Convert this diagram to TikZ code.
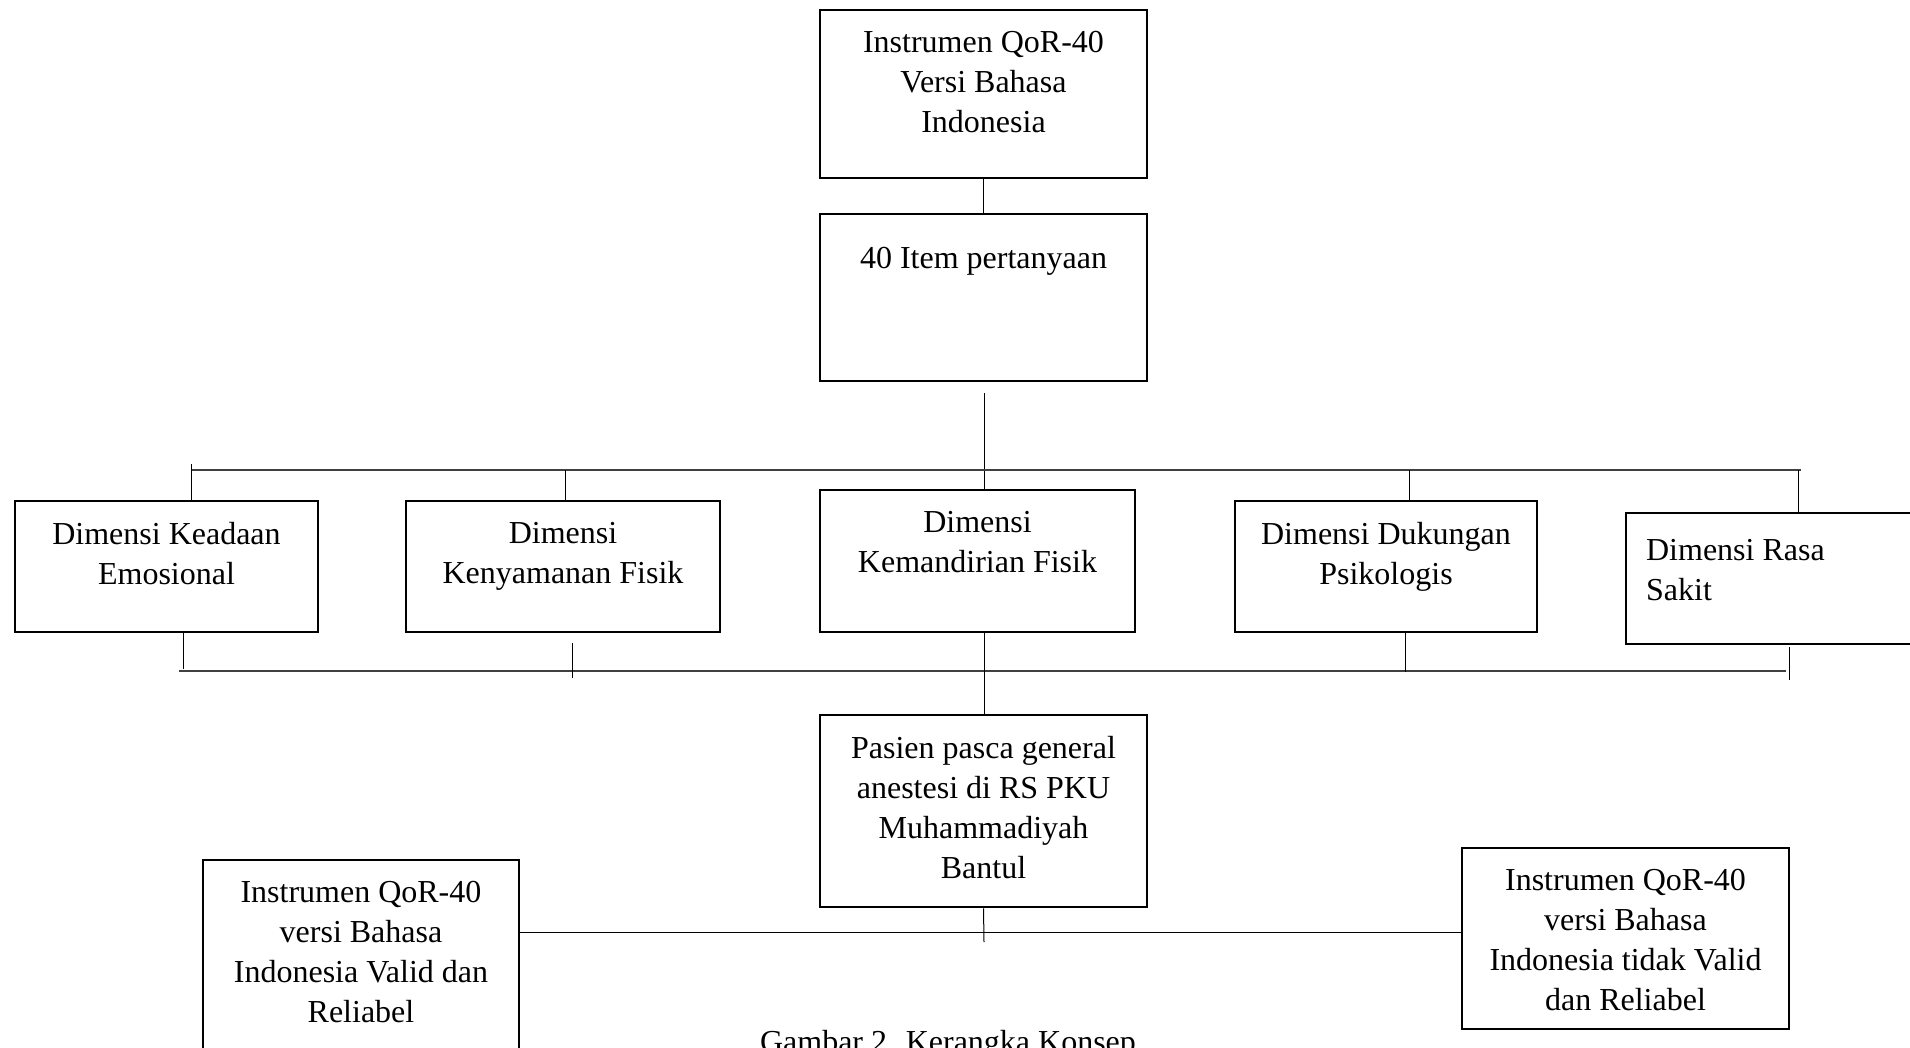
\documentclass[tikz,border=0pt]{standalone}
\usepackage{fontspec}
\setmainfont{Liberation Serif}
\usetikzlibrary{positioning}

\tikzset{
    box/.style={draw, line width=1.3pt, rectangle, inner sep=0pt},
    txt/.style={align=center, inner sep=0pt, font=\fontsize{16}{20}\selectfont},
    bar/.style={line width=0.8pt, black!75},
    tick/.style={line width=0.5pt}
}

\begin{document}
\begin{tikzpicture}[x=0.5pt, y=-0.5pt]
    \useasboundingbox (0,0) rectangle (1910,1048);

    % boxes
    \node[box, minimum width=163.5pt, minimum height=84pt] (qor) at (983.5, 94) {};
    \node[box, minimum width=163.5pt, minimum height=83.5pt] (item) at (983.5, 297.5) {};
    \node[box, minimum width=151.5pt, minimum height=65.5pt] (emo) at (166.5, 566.5) {};
    \node[box, minimum width=157pt, minimum height=65.5pt] (nyaman) at (563, 566.5) {};
    \node[box, minimum width=157.5pt, minimum height=71pt] (mandiri) at (977.5, 561) {};
    \node[box, minimum width=151pt, minimum height=65.5pt] (psiko) at (1386, 566.5) {};
    \node[box, minimum width=144.5pt, minimum height=65.5pt] (sakit) at (1770.5, 578.5) {};
    \node[box, minimum width=163.5pt, minimum height=96pt] (pasien) at (983.5, 811) {};
    \node[box, minimum width=158pt, minimum height=105pt] (valid) at (361, 965) {};
    \node[box, minimum width=163.5pt, minimum height=90.5pt] (tidak) at (1625.5, 938.5) {};

    % texts
    \node[txt, below=11pt of qor.north] (qortxt) {Instrumen QoR-40\\Versi Bahasa\\Indonesia};
    \node[txt, below=17pt of item.north] (itemtxt) {40 Item pertanyaan};
    \node[txt, below=11pt of emo.north] (emotxt) {Dimensi Keadaan\\Emosional};
    \node[txt, below=11pt of nyaman.north] (nyamantxt) {Dimensi\\Kenyamanan Fisik};
    \node[txt, below=11pt of mandiri.north] (mandiritxt) {Dimensi\\Kemandirian Fisik};
    \node[txt, below=11pt of psiko.north] (psikotxt) {Dimensi Dukungan\\Psikologis};
    \node[txt, align=left, anchor=north west] (sakittxt) at ([xshift=10.5pt, yshift=-13.5pt]sakit.north west) {Dimensi Rasa\\Sakit};
    \node[txt, below=11pt of pasien.north] (pasientxt) {Pasien pasca general\\anestesi di RS PKU\\Muhammadiyah\\Bantul};
    \node[txt, below=11pt of valid.north] (validtxt) {Instrumen QoR-40\\versi Bahasa\\Indonesia Valid dan\\Reliabel};
    \node[txt, below=11pt of tidak.north] (tidaktxt) {Instrumen QoR-40\\versi Bahasa\\Indonesia tidak Valid\\dan Reliabel};
    \node[txt, anchor=north] (caption) at (948, 1030) {Gambar 2. Kerangka Konsep};

    % free ends of the connectors
    \coordinate (hub) at (984, 393);
    \coordinate (topL) at (191, 470);
    \coordinate (topR) at (1801, 470);
    \coordinate (t1) at (191, 464);
    \coordinate (t2) at (565, 470);
    \coordinate (t4) at (1409, 470);
    \coordinate (t5) at (1798, 470);
    \coordinate (botL) at (179, 671);
    \coordinate (botR) at (1786, 671);
    \coordinate (b1) at (183, 669);
    \coordinate (b2a) at (572, 643);
    \coordinate (b2b) at (572, 678);
    \coordinate (b4) at (1405, 672);
    \coordinate (b5a) at (1789, 647);
    \coordinate (b5b) at (1789, 680);
    \coordinate (low) at (984, 942);
    \coordinate (hl) at (984, 932);

    % connectors
    \draw[tick] (qor) -- (item);
    \draw[tick] (hub) -- (hub |- mandiri.north);
    \draw[bar] (topL) -- (topR);
    \draw[tick] (t1) -- (t1 |- emo.north);
    \draw[tick] (t2) -- (t2 |- nyaman.north);
    \draw[tick] (t4) -- (t4 |- psiko.north);
    \draw[tick] (t5) -- (t5 |- sakit.north);
    \draw[bar] (botL) -- (botR);
    \draw[tick] (b1 |- emo.south) -- (b1);
    \draw[tick] (b2a) -- (b2b);
    \draw[tick] (b4 |- psiko.south) -- (b4);
    \draw[tick] (b5a) -- (b5b);
    \draw[tick] (hub |- mandiri.south) -- (hub |- pasien.north);
    \draw[tick] (pasien.south) -- (low);
    \draw[tick] (valid.east |- hl) -- (tidak.west |- hl);
\end{tikzpicture}
\end{document}
